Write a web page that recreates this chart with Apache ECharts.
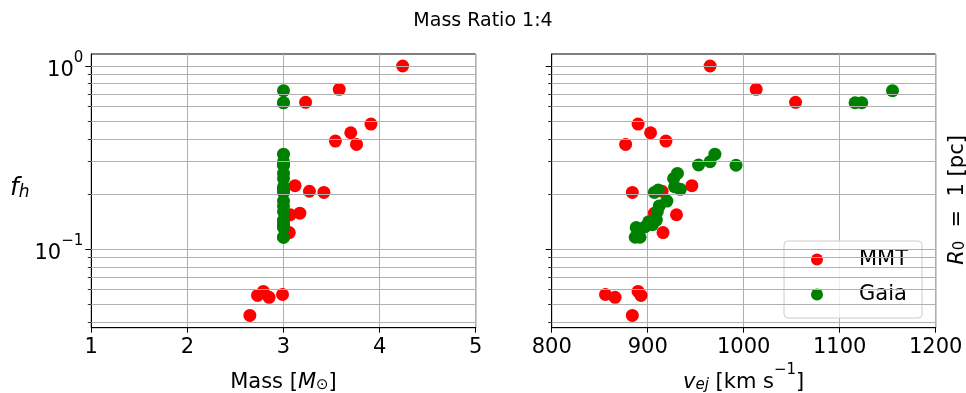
<!DOCTYPE html>
<html>
<head>
<meta charset="utf-8">
<script src="https://cdn.jsdelivr.net/npm/echarts@6/dist/echarts.min.js"></script>
<style>
  html, body { margin: 0; padding: 0; background: #ffffff; }
  #chart { width: 966px; height: 393px; }
</style>
</head>
<body>
<div id="chart"></div>
<script>
// MMT stars: mass, ejection velocity and f_h (same order in each list)
const mmtMass = [4.24, 3.58, 3.23, 3.91, 3.70, 3.54, 3.76, 3.12, 3.27, 3.42, 3.17, 3.07, 3.06, 2.79, 2.99, 2.73, 2.85, 2.65];
const mmtVej  = [965, 1013, 1054, 890, 903, 919, 877, 946, 915, 884, 907, 930, 916, 890, 856, 893, 866, 884];
const mmtFh   = [1.00, 0.746, 0.633, 0.482, 0.432, 0.389, 0.373, 0.222, 0.207, 0.204, 0.157, 0.154, 0.123, 0.0587, 0.0565, 0.0558, 0.0545, 0.0434];

// Gaia stars
const gaiaMass = [3.0, 3.0, 3.0, 3.0, 3.0, 3.0, 3.0, 3.0, 3.0, 3.0, 3.0, 3.0, 3.0, 3.0, 3.0, 3.0, 3.0, 3.0, 3.0, 3.0, 3.0, 3.0, 3.0];
const gaiaVej  = [1155, 1116, 1123, 970, 965, 953, 992, 931, 927, 928, 934, 911, 907, 920, 912, 910, 909, 901, 905, 897, 888, 892, 887];
const gaiaFh   = [0.733, 0.630, 0.630, 0.330, 0.300, 0.288, 0.287, 0.259, 0.243, 0.219, 0.212, 0.210, 0.204, 0.183, 0.172, 0.160, 0.144, 0.141, 0.136, 0.132, 0.131, 0.116, 0.116];

// axis settings
const massRange = [1, 5];
const vejRange = [800, 1200];
const fhRange = [0.0372, 1.163];
const fhMajor = [0.1, 1];
const fhMinor = [0.04, 0.05, 0.06, 0.07, 0.08, 0.09, 0.2, 0.3, 0.4, 0.5, 0.6, 0.7, 0.8, 0.9];

const FONT = 'DejaVu Sans';
const GRID_COLOR = '#b0b0b0';

function pairs(xs, ys) { return xs.map((x, i) => [x, ys[i]]); }

const chart = echarts.init(document.getElementById('chart'), null, { renderer: 'canvas' });

const grids = [
  { left: 91.3, top: 54, width: 384.4, height: 273.7 },
  { left: 551.7, top: 54, width: 384, height: 273.7 }
];

function supLabel(v) {
  const e = Math.round(Math.log10(v));
  return '{b|10}{s|' + (e < 0 ? '\u2212' + (-e) : e) + '}';
}

function xAxisFor(gridIndex, range, interval, name) {
  return {
    type: 'value', gridIndex, min: range[0], max: range[1], interval,
    axisLine: { show: true, onZero: false, lineStyle: { color: '#000', width: 1 } },
    axisTick: { show: true, length: 5, lineStyle: { color: '#000', width: 1 } },
    axisLabel: { fontFamily: FONT, fontSize: 21, color: '#000', margin: 9, formatter: v => String(v) },
    splitLine: { show: true, lineStyle: { color: GRID_COLOR, width: 1 } },
    name, nameLocation: 'middle', nameGap: 35,
    nameTextStyle: {
      fontFamily: FONT, fontSize: 21, color: '#000',
      rich: {
        t: { fontFamily: FONT, fontSize: 21, color: '#000', lineHeight: 30, verticalAlign: 'bottom' },
        i: { fontFamily: FONT, fontSize: 21, fontStyle: 'italic', color: '#000', lineHeight: 30, verticalAlign: 'bottom' },
        s: { fontFamily: FONT, fontSize: 15, color: '#000', lineHeight: 24, verticalAlign: 'bottom' },
        si: { fontFamily: FONT, fontSize: 15, fontStyle: 'italic', color: '#000', lineHeight: 24, verticalAlign: 'bottom' },
        p: { fontFamily: FONT, fontSize: 15, color: '#000', lineHeight: 16, verticalAlign: 'top' }
      }
    }
  };
}

function yAxesFor(gridIndex, showLabels) {
  const main = {
    type: 'log', logBase: 10, gridIndex, position: 'left', offset: 0,
    min: fhRange[0], max: fhRange[1],
    axisLine: { show: true, lineStyle: { color: '#000', width: 1 } },
    axisTick: { show: true, length: 6, customValues: fhMajor, lineStyle: { color: '#000', width: 1 } },
    axisLabel: {
      show: showLabels, customValues: fhMajor, margin: 8,
      formatter: supLabel,
      rich: {
        b: { fontFamily: FONT, fontSize: 21, color: '#000', lineHeight: 30, verticalAlign: 'bottom' },
        s: { fontFamily: FONT, fontSize: 15, color: '#000', lineHeight: 16, verticalAlign: 'top' }
      }
    },
    splitLine: { show: false }
  };
  if (showLabels) {
    Object.assign(main, {
      name: '{f|f}{h|h}', nameLocation: 'middle', nameRotate: 0, nameGap: 54,
      nameTextStyle: {
        padding: [0, 0, 10, 0],
        rich: {
          f: { fontFamily: FONT, fontSize: 25, fontStyle: 'italic', color: '#000', lineHeight: 30, verticalAlign: 'bottom' },
          h: { fontFamily: FONT, fontSize: 17, fontStyle: 'italic', color: '#000', lineHeight: 22, verticalAlign: 'bottom' }
        }
      }
    });
  }
  const minor = {
    type: 'log', logBase: 10, gridIndex, position: 'left', offset: 0,
    min: fhRange[0], max: fhRange[1],
    axisLine: { show: false },
    axisTick: { show: true, length: 3.5, customValues: fhMinor, lineStyle: { color: '#000', width: 0.8 } },
    axisLabel: { show: false },
    splitLine: { show: false }
  };
  return [main, minor];
}

// horizontal grid lines at every decade and sub-decade value
const fhGrid = fhMajor.concat(fhMinor);
function gridLines(xi, yi) {
  return {
    type: 'scatter', xAxisIndex: xi, yAxisIndex: yi, data: [], z: 1, silent: true,
    markLine: {
      silent: true, animation: false, symbol: ['none', 'none'],
      label: { show: false },
      lineStyle: { color: GRID_COLOR, width: 1, type: 'solid' },
      emphasis: { disabled: true },
      data: fhGrid.map(v => ({ yAxis: v }))
    }
  };
}

function scatter(name, xi, yi, xs, ys, color) {
  return {
    name, type: 'scatter', xAxisIndex: xi, yAxisIndex: yi, z: 3,
    symbol: 'circle', symbolSize: 13,
    itemStyle: { color, opacity: 1 },
    emphasis: { disabled: true },
    data: pairs(xs, ys)
  };
}

const yLeft = yAxesFor(0, true);
const yRight = yAxesFor(1, false);

const option = {
  animation: false,
  backgroundColor: '#ffffff',
  title: {
    text: 'Mass Ratio 1:4', left: 'center', top: 7,
    textStyle: { fontFamily: FONT, fontSize: 19, fontWeight: 'normal', color: '#000' }
  },
  grid: grids.map(g => Object.assign({
    show: true, borderColor: '#000', borderWidth: 1, backgroundColor: 'transparent',
    containLabel: false, outerBoundsMode: 'none'
  }, g)),
  xAxis: [
    xAxisFor(0, massRange, 1, '{t|Mass [}{i|M}{s|\u2299}{t|]}'),
    xAxisFor(1, vejRange, 100, '{i|v}{si|ej}{t| [km s}{p|\u22121}{t|]}')
  ],
  yAxis: [yLeft[0], yLeft[1], yRight[0], yRight[1]],
  legend: {
    orient: 'vertical', left: 784, top: 241,
    data: ['MMT', 'Gaia'],
    icon: 'circle', itemWidth: 12, itemHeight: 12, itemGap: 14,
    padding: [8, 14, 13, 27],
    backgroundColor: 'rgba(255,255,255,0.8)',
    borderColor: '#cccccc', borderWidth: 1, borderRadius: 4,
    selectedMode: false,
    textStyle: { fontFamily: FONT, fontSize: 21, color: '#000', lineHeight: 20, padding: [0, 0, 0, 31] }
  },
  graphic: [{
    type: 'text', x: 955, y: 200, rotation: Math.PI / 2,
    style: {
      text: '{i|R}{s|0}{t|  =  1 [pc]}',
      align: 'center', verticalAlign: 'middle',
      rich: {
        t: { fontFamily: FONT, fontSize: 21, fill: '#000', lineHeight: 26, verticalAlign: 'bottom' },
        i: { fontFamily: FONT, fontSize: 21, fontStyle: 'italic', fill: '#000', lineHeight: 26, verticalAlign: 'bottom' },
        s: { fontFamily: FONT, fontSize: 15, fill: '#000', lineHeight: 20, verticalAlign: 'bottom' }
      }
    }
  }],
  series: [
    gridLines(0, 0),
    gridLines(1, 2),
    scatter('MMT', 0, 0, mmtMass, mmtFh, '#ff0000'),
    scatter('Gaia', 0, 0, gaiaMass, gaiaFh, '#008000'),
    scatter('MMT', 1, 2, mmtVej, mmtFh, '#ff0000'),
    scatter('Gaia', 1, 2, gaiaVej, gaiaFh, '#008000')
  ]
};

chart.setOption(option);
</script>
</body>
</html>
